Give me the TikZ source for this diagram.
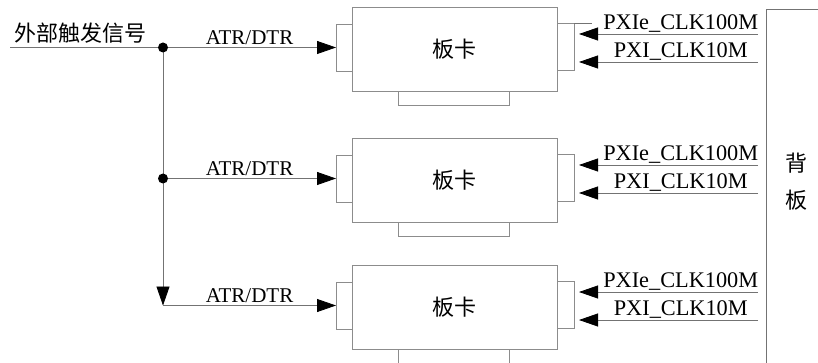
\documentclass[tikz,border=0pt]{standalone}
\usepackage{fontspec}
\setmainfont{Liberation Serif}
\newfontfamily\cjk{Noto Sans CJK SC}
\usetikzlibrary{arrows.meta}

\tikzset{
  box/.style={draw=black!45, line width=0.8pt, inner sep=0pt, outer sep=0pt},
  wire/.style={draw=black!55, line width=0.8pt},
  sig/.style={wire, -{Triangle[length=19pt,width=13pt,black]}},
  lbl/.style={font=\fontsize{21}{24}\selectfont, inner sep=2pt},
  clk/.style={font=\fontsize{22.3}{25}\selectfont, inner sep=1.5pt},
  zh/.style={font=\cjk\fontsize{22}{26}\selectfont, inner sep=0pt},
}

\begin{document}
\begin{tikzpicture}[x=1pt, y=-1pt]
    \useasboundingbox (0,0) rectangle (818,363);
    % boards with their connectors
    \foreach \i/\t in {1/7, 2/138, 3/265} {
        \node[box, zh, anchor=north west, minimum width=205pt, minimum height=84pt]
            (card\i) at (352,\t) {板卡};
        \node[box, anchor=north east, minimum width=16pt, minimum height=47pt]
            (lconn\i) at (352,{\t+17}) {};
        \node[box, anchor=north west, minimum width=17pt, minimum height=47pt]
            (rconn\i) at (557,{\t+16}) {};
        \node[box, anchor=north, minimum width=111pt, minimum height=14pt]
            (bconn\i) at (453.5,{\t+84}) {};
        % clocks from the backplane
        \coordinate (pa\i) at (758,{\t+27});
        \coordinate (pb\i) at (758,{\t+55});
        \draw[sig, shorten >=5pt] (pa\i) -- (pa\i -| rconn\i.east)
            node[clk, above, pos=0.42] {PXIe\_CLK100M};
        \draw[sig, shorten >=5pt] (pb\i) -- (pb\i -| rconn\i.east)
            node[clk, above, pos=0.42] {PXI\_CLK10M};
    }
    \draw[wire] (rconn1.north east) -- ++(18,0);

    % external trigger
    \node[zh] (ext) at (80,33) {外部触发信号};
    \coordinate (in) at (10,47.5);
    \coordinate (split1) at (163,47.5);
    \coordinate (split2) at (163,178.5);
    \coordinate (end3) at (163,305.5);
    \draw[wire] (in) -- (split1);
    \draw[sig] (split1) -- (end3);
    \draw[sig] (split1) -- (lconn1.west) node[lbl, above, midway] {ATR/DTR};
    \draw[sig] (split2) -- (lconn2.west) node[lbl, above, midway] {ATR/DTR};
    \draw[sig] (end3) -- (lconn3.west) node[lbl, above, midway] {ATR/DTR};
    \fill (split1) circle (5pt);
    \fill (split2) circle (5pt);

    % backplane
    \draw[wire] (818,9) -- (766,9) -- (766,363);
    \node[zh, font=\cjk\fontsize{22}{37}\selectfont, align=center] (bplbl) at (796,182) {背\\板};
\end{tikzpicture}
\end{document}
